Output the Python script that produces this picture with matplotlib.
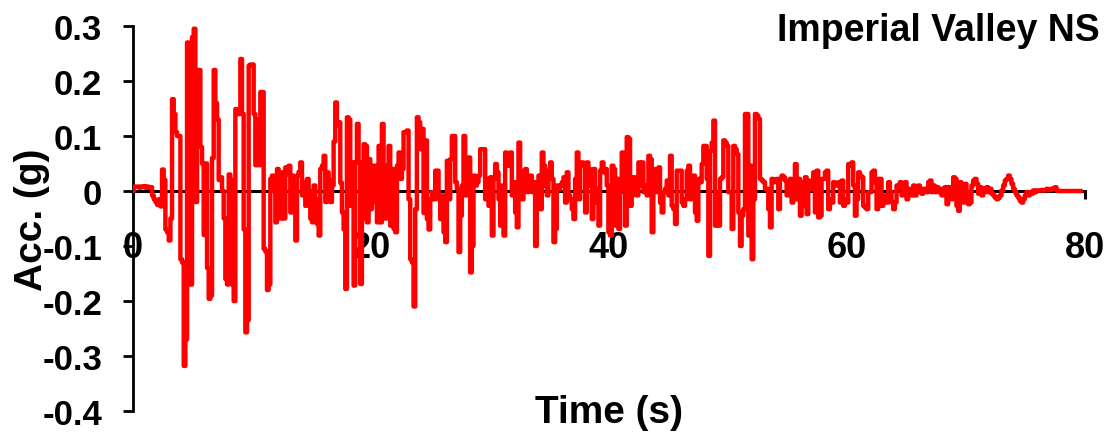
import numpy as np
import matplotlib
matplotlib.use("Agg")
from matplotlib import pyplot as plt

DT = 0.14

acc_0_11 = [
    0.0, 0.008, 0.008, 0.008, 0.006, 0.008, 0.007, 0.009, 0.006, 0.008,
    0.006, 0.007, -0.008, -0.015, -0.02, -0.025, -0.015, -0.028, 0.039, 0.02,
    -0.07, -0.075, -0.09, -0.05, 0.167, 0.14, 0.107, 0.1, 0.1, -0.124,
    -0.13, -0.318, -0.27, 0.27, 0.265, -0.17, 0.28, 0.295, -0.02, 0.22,
    0.22, 0.08, 0.05, -0.08, 0.05, -0.14, -0.196, -0.19, 0.06, 0.22,
    0.16, 0.13, 0.02, 0.025, 0.0, -0.05, -0.16, -0.17, 0.03, 0.02,
    -0.17, -0.2, 0.149, 0.14, 0.14, 0.24, 0.14, -0.07, -0.257, -0.235,
    0.228, 0.23, 0.23, 0.14, 0.047, 0.13, 0.047, 0.18, 0.18, -0.105,
    -0.11, -0.18,
]

acc_11_22 = [
    -0.17, 0.022, 0.028, 0.0, -0.057, 0.04, 0.01, -0.05, 0.034, -0.05,
    0.043, 0.03, 0.046, -0.039, 0.028, -0.02, -0.09, 0.028, 0.035, 0.052,
    -0.008, 0.016, -0.027, 0.022, 0.0, -0.05, -0.057, 0.01, -0.015, -0.06,
    -0.081, 0.04, 0.046, 0.064, -0.02, 0.034, 0.02, -0.02, 0.01, 0.09,
    0.161, 0.119, 0.125, 0.015, -0.039, -0.07, -0.178, 0.134, 0.13, -0.027,
    0.052, -0.172, 0.052, 0.122, 0.052, -0.169, -0.05, 0.085, 0.082, -0.057,
    0.058, -0.033, 0.046, -0.02, 0.046, -0.057, 0.082, -0.057, 0.122, 0.046,
    -0.05, 0.046, 0.082, -0.063, 0.04, -0.069,
]

acc_22_33 = [
    -0.075, 0.046, 0.07, 0.022, 0.04, 0.107, 0.107, 0.11, -0.015, -0.124,
    -0.13, -0.21, -0.033, 0.134, 0.125, 0.076, 0.113, -0.04, 0.092, -0.051,
    -0.07, -0.015, -0.002, -0.015, 0.037, 0.037, -0.015, -0.051, -0.008, -0.075,
    -0.093, 0.055, -0.015, 0.058, 0.1, 0.1, 0.016, 0.004, -0.111, -0.045,
    0.01, 0.1, -0.008, 0.01, 0.061, -0.148, -0.1, 0.028, 0.01, 0.016,
    0.028, 0.076, 0.076, 0.076, -0.015, 0.022, -0.027, 0.025, -0.081, 0.022,
    0.049, 0.034, -0.015, -0.063, 0.01, -0.081, 0.07, 0.058, 0.046, 0.07,
    -0.008, 0.016, -0.039, -0.066, 0.088, 0.016, -0.015, 0.037, 0.04, -0.002,
]

acc_33_44 = [
    0.016, 0.028, -0.002, 0.016, -0.1, -0.033, 0.028, -0.033, 0.07, 0.046,
    0.01, -0.008, 0.037, 0.052, 0.022, -0.093, -0.069, 0.01, 0.004, 0.01,
    0.016, 0.025, -0.021, 0.034, -0.008, -0.015, -0.033, -0.051, 0.022, 0.07,
    -0.015, 0.046, 0.052, 0.046, -0.039, 0.052, 0.04, 0.01, -0.051, 0.04,
    -0.021, 0.004, -0.063, 0.037, 0.052, 0.034, 0.04, 0.01, -0.075, -0.081,
    0.046, 0.04, -0.063, 0.022, -0.069, -0.002, 0.07, 0.064, -0.063, 0.098,
    0.095, -0.027, -0.008, 0.025, 0.022, -0.008, 0.052, 0.01, 0.052, -0.002,
    0.01, -0.008, 0.064, 0.058, -0.075, 0.04, 0.034, -0.002,
]

acc_44_55 = [
    0.043, -0.021, -0.039, -0.002, 0.004, 0.019, -0.008, 0.064, -0.027, -0.033,
    -0.06, 0.037, 0.037, 0.037, -0.021, -0.027, -0.015, 0.037, 0.046, -0.015,
    0.025, 0.028, -0.039, -0.054, 0.022, 0.016, 0.049, 0.082, 0.082, 0.022,
    -0.118, 0.073, 0.088, 0.128, -0.063, -0.008, -0.063, 0.022, 0.025, 0.092,
    0.088, 0.082, -0.002, -0.002, -0.069, 0.082, 0.076, 0.067, -0.039, -0.1,
    -0.045, -0.033, 0.14, 0.14, -0.081, 0.046, -0.124, -0.015, 0.14, 0.137,
    0.131, 0.022, 0.019, 0.016, 0.004, 0.004, -0.033, -0.066, 0.022, 0.016,
    0.016, 0.022, -0.033, 0.022, 0.028, 0.025, 0.019, -0.008,
]

acc_55_67 = [
    0.004, 0.022, -0.021, -0.002, 0.049, -0.015, 0.022, -0.045, 0.016, -0.027,
    0.025, -0.042, 0.019, 0.004, 0.01, 0.034, -0.039, 0.037, -0.048, -0.045,
    0.022, 0.022, 0.034, 0.037, -0.033, -0.015, -0.021, 0.016, 0.01, 0.013,
    0.016, -0.021, 0.019, -0.027, -0.015, -0.021, 0.049, 0.046, 0.052, 0.01,
    -0.045, -0.015, 0.034, 0.028, 0.025, -0.027, -0.03, -0.033, -0.002, -0.002,
    0.034, 0.037, 0.016, -0.033, 0.022, 0.022, -0.027, -0.015, -0.008, -0.021,
    0.016, -0.002, -0.021, -0.033, -0.021, 0.01, 0.004, 0.016, -0.008, 0.01,
    0.016, -0.015, 0.004, -0.002, -0.008, 0.01, -0.008, 0.004, 0.01, -0.002,
    -0.005, 0.004, 0.004, -0.002, 0.016, 0.019, -0.002, 0.01, -0.002, 0.007,
]

acc_67_80 = [
    -0.002, 0.004, -0.008, 0.004, 0.007, -0.024, 0.007, 0.004, -0.015, 0.025,
    0.022, -0.027, -0.036, 0.016, -0.002, -0.021, 0.013, -0.002, -0.024, -0.021,
    0.01, 0.019, 0.022, 0.013, -0.005, 0.007, -0.008, 0.004, -0.002, 0.007,
    -0.002, 0.004, -0.005, -0.008, -0.012, -0.015, -0.012, -0.008, 0.001, 0.01,
    0.019, 0.022, 0.028, 0.022, 0.013, 0.004, -0.002, -0.008, -0.012, -0.018,
    -0.021, -0.015, -0.008, -0.002, -0.008, -0.002, -0.005, 0.001, -0.002, 0.001,
    0.001, 0.001, 0.002, 0.001, 0.001, 0.004, 0.002, 0.002, 0.004, 0.005,
    0.007, 0.001, 0.0, 0.0, 0.0, 0.0, 0.0, 0.0, 0.0, 0.0,
    0.0, 0.0, 0.0, 0.0, 0.0, 0.0,
]

x_ticks = [0, 20, 40, 60, 80]
y_ticks = [-0.4, -0.3, -0.2, -0.1, 0, 0.1, 0.2, 0.3]
y_labels = ["-0.4", "-0.3", "-0.2", "-0.1", "0", "0.1", "0.2", "0.3"]
title = "Imperial Valley NS"

acc = np.concatenate([acc_0_11, acc_11_22, acc_22_33, acc_33_44,
                      acc_44_55, acc_55_67, acc_67_80])
t = np.arange(len(acc)) * DT

plt.rcParams["font.family"] = ["Liberation Sans", "DejaVu Sans"]
plt.rcParams["font.weight"] = "bold"

fig = plt.figure(figsize=(11.17, 4.39), dpi=100)
ax = fig.add_axes([0.119, 0.0615, 0.852, 0.877])

ax.plot(t, acc, color="#ff0000", lw=3.2, drawstyle="steps-mid", zorder=3)

ax.set_xlim(0, 80)
ax.set_ylim(-0.4, 0.3)

for s in ["top", "right"]:
    ax.spines[s].set_visible(False)
ax.spines["left"].set_linewidth(2.0)
ax.spines["bottom"].set_position(("data", 0))
ax.spines["bottom"].set_linewidth(2.2)
ax.spines["bottom"].set_zorder(2)

ax.set_xticks(x_ticks)
ax.set_xticklabels([str(v) for v in x_ticks])
ax.set_yticks(y_ticks)
ax.set_yticklabels(y_labels)
ax.tick_params(axis="y", direction="out", length=7, width=2.0, pad=15,
               labelsize=25)
ax.tick_params(axis="x", direction="out", length=6, width=2.2, pad=22,
               labelsize=26)

ax.set_xlabel("Time (s)", fontsize=28, fontweight="bold")
ax.xaxis.set_label_coords(0.5, 0.045)
ax.set_ylabel("Acc. (g)", fontsize=28, fontweight="bold")
ax.yaxis.set_label_coords(-0.087, 0.5)

fig.text(1100 / 1117, 1 - 31 / 439, title, ha="right", va="center",
         fontsize=27, fontweight="bold")

fig.savefig("out.png", dpi=100)
